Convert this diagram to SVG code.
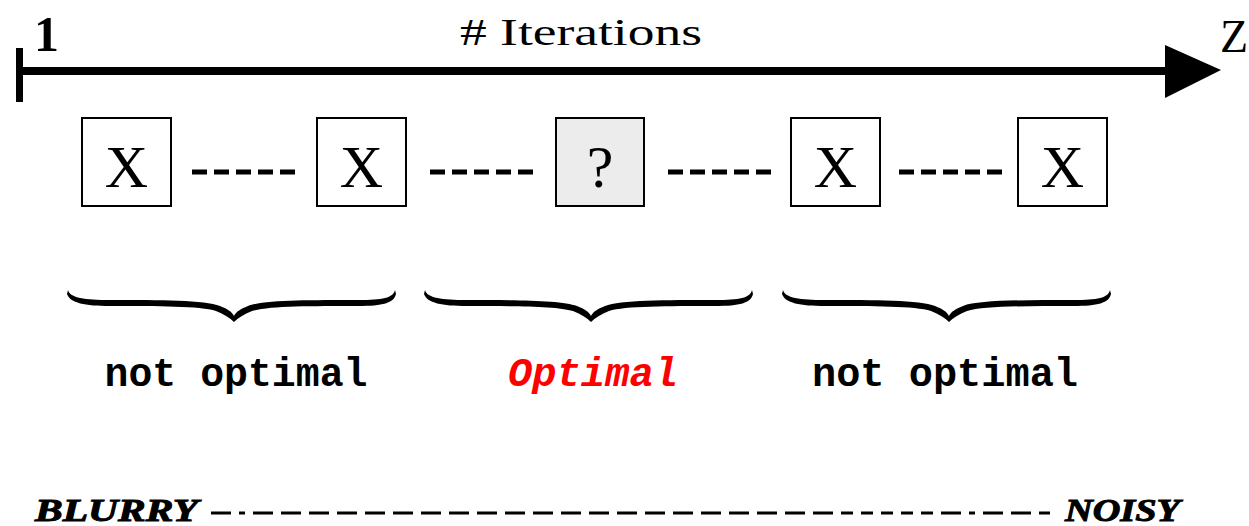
<svg xmlns="http://www.w3.org/2000/svg" width="1249" height="526" viewBox="0 0 1249 526">
<style>
.box{fill:#fff;stroke:#000;stroke-width:2}
.q{fill:#ececec;stroke:#000;stroke-width:2}
.glyph{font-family:"Liberation Serif",serif;font-size:60px;text-anchor:middle;fill:#000}
.dash{stroke:#000;stroke-width:5;stroke-dasharray:15 7;fill:none}
.lbl{font-family:"Liberation Mono",monospace;font-weight:bold;font-size:40px;text-anchor:middle}
.end{font-family:"Liberation Serif",serif;font-weight:bold;font-style:italic;font-size:32px;stroke:#000;stroke-width:1}
.top{font-family:"Liberation Serif",serif;fill:#000}
</style>
<defs>
<path id="brace" d="M68,290 C70,298 85,300 110,300 C160,300 205,300 220,306 C228,309 232,312 234,316 C236,312 240,309 248,306 C263,300 308,300 358,300 C383,300 393,298 395,290 L396,294 C394,303 383,306 358,306 C310,306 268,306 252,311 C244,314 238,318 234,322 C230,318 224,314 216,311 C200,306 158,306 110,306 C85,306 70,303 67,294 Z" fill="#000"/>
</defs>
<rect width="1249" height="526" fill="#fff"/>
<g id="axis">
<line x1="19" y1="71" x2="1172" y2="71" stroke="#000" stroke-width="8"/>
<line x1="19.5" y1="48" x2="19.5" y2="102" stroke="#000" stroke-width="7"/>
<polygon points="1165,45 1221,70 1165,98" fill="#000"/>
<text class="top" x="34" y="51" font-size="50" font-weight="bold">1</text>
<text class="top" x="581" y="45" font-size="38" text-anchor="middle" textLength="242" lengthAdjust="spacingAndGlyphs"># Iterations</text>
<text class="top" x="1220" y="52" font-size="46">Z</text>
</g>
<g id="connectors">
<line class="dash" x1="192" y1="172" x2="296" y2="172"/>
<line class="dash" x1="430" y1="172" x2="534" y2="172"/>
<line class="dash" x1="668" y1="172" x2="772" y2="172"/>
<line class="dash" x1="899" y1="172" x2="1003" y2="172"/>
</g>
<g id="n1"><rect class="box" x="82" y="118" width="89" height="88"/><text class="glyph" x="126.5" y="187">X</text></g>
<g id="n2"><rect class="box" x="317" y="118" width="89" height="88"/><text class="glyph" x="361.5" y="187">X</text></g>
<g id="n3"><rect class="q" x="556" y="118" width="88" height="88"/><text class="glyph" x="600" y="187">?</text></g>
<g id="n4"><rect class="box" x="791" y="118" width="89" height="88"/><text class="glyph" x="835.5" y="187">X</text></g>
<g id="n5"><rect class="box" x="1018" y="118" width="89" height="88"/><text class="glyph" x="1062.5" y="187">X</text></g>
<g id="braces">
<use href="#brace"/>
<use href="#brace" x="357"/>
<use href="#brace" x="715"/>
</g>
<g id="labels">
<text class="lbl" x="236" y="386" textLength="263" lengthAdjust="spacingAndGlyphs">not optimal</text>
<text class="lbl" x="593" y="386" fill="#ff0000" font-style="italic" textLength="170" lengthAdjust="spacingAndGlyphs">Optimal</text>
<text class="lbl" x="945" y="386" textLength="266" lengthAdjust="spacingAndGlyphs">not optimal</text>
</g>
<g id="scale">
<text class="end" x="35" y="521" textLength="163" lengthAdjust="spacingAndGlyphs">BLURRY</text>
<path d="M211,513 H1050" stroke="#000" stroke-width="3" stroke-dasharray="20 8 6 8 20 8 20 8 20 8 20 8 20 8 20 8 20 8 20 8 20 8 20 8 20 8 20 8 20 8 20 8 20 8 20 8 20 8 20 8 20 8 20 8 20 8 12 8 12 8 12 8 12 8 12 8"/>
<text class="end" x="1065" y="521" textLength="115" lengthAdjust="spacingAndGlyphs">NOISY</text>
</g>
</svg>
